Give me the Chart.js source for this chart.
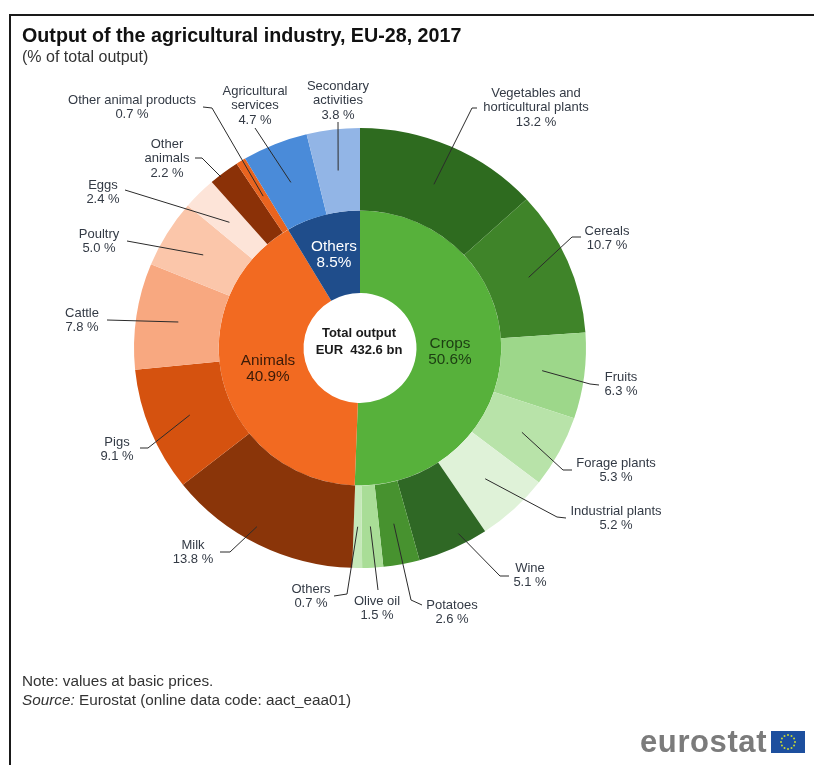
<!DOCTYPE html>
<html>
<head>
<meta charset="utf-8">
<title>Output of the agricultural industry</title>
<script src="https://cdn.jsdelivr.net/npm/chart.js@4"></script>
<style>
  html, body { margin: 0; padding: 0; background: #fff; }
  body { width: 814px; height: 765px; position: relative; overflow: hidden; font-family: "Liberation Sans", Arial, sans-serif; color: #222; }
  #frame { position: absolute; left: 9px; top: 14px; width: 810px; height: 760px; border: 2px solid #1a1a1a; box-sizing: border-box; }
  canvas { position: absolute; left: 0; top: 0; }
  .txt { position: absolute; white-space: nowrap; }
  #title { left: 22px; top: 24px; font-size: 19.7px; font-weight: bold; color: #111; }
  #sub { left: 22px; top: 48px; font-size: 16px; color: #333; }
  #note { left: 22px; top: 672px; font-size: 15.3px; color: #333; }
  #source { left: 22px; top: 691px; font-size: 15.3px; color: #333; }
  #logo { left: 640px; top: 724px; font-size: 31px; font-weight: bold; color: #7b7b7b; letter-spacing: 0.6px; }
  #flag { position: absolute; left: 771px; top: 731px; }
</style>
</head>
<body>
<div id="frame"></div>
<canvas id="donut" width="814" height="765"></canvas>
<div class="txt" id="title">Output of the agricultural industry, EU-28, 2017</div>
<div class="txt" id="sub">(% of total output)</div>
<div class="txt" id="note">Note: values at basic prices.</div>
<div class="txt" id="source"><i>Source:</i> Eurostat (online data code: aact_eaa01)</div>
<div class="txt" id="logo">eurostat</div>
<svg id="flag" width="34" height="22"></svg>
<script>
// outer ring, clockwise from 12 o'clock
const outerNames = ["Vegetables and|horticultural plants", "Cereals", "Fruits", "Forage plants", "Industrial plants", "Wine", "Potatoes", "Olive oil", "Others", "Milk", "Pigs", "Cattle", "Poultry", "Eggs", "Other|animals", "Other animal products", "Agricultural|services", "Secondary|activities"];
const outerValues = [13.2, 10.7, 6.3, 5.3, 5.2, 5.1, 2.6, 1.5, 0.7, 13.8, 9.1, 7.8, 5.0, 2.4, 2.2, 0.7, 4.7, 3.8];
const outerColors = ["#2e6b1f", "#3f8429", "#9dd78a", "#b8e3a9", "#dff2d8", "#2f6825", "#47922f", "#a9dd97", "#c5e9b9", "#8a3509", "#d5520f", "#f8a880", "#fbc6aa", "#fde4d8", "#8b3107", "#e9641f", "#4a8bd9", "#92b5e6"];

// inner ring
const innerNames = ["Crops", "Animals", "Others"];
const innerValues = [50.6, 40.9, 8.5];
const innerColors = ["#57b13b", "#f26a21", "#1f4d8b"];

// where each outer label sits: text centre, first row, then the leader's bend and end.
// trim drops that share of the leader at the arc end, so it stops short of the arc's middle
const callouts = [
  { x: 536, y: 93, bend: [472, 108], end: [477, 108] },
  { x: 607, y: 231, bend: [572, 237], end: [581, 237] },
  { x: 621, y: 377, bend: [590, 384], end: [599, 385] },
  { x: 616, y: 463, bend: [563, 470], end: [572, 470] },
  { x: 616, y: 511, bend: [557, 517], end: [566, 518] },
  { x: 530, y: 568, bend: [500, 576], end: [509, 576], trim: 0.35 },
  { x: 452, y: 605, bend: [411, 600], end: [422, 605] },
  { x: 377, y: 601, bend: [378, 590], end: [378, 590] },
  { x: 311, y: 589, bend: [347, 594], end: [334, 596] },
  { x: 193, y: 545, bend: [230, 552], end: [220, 552], trim: 0.43 },
  { x: 117, y: 442, bend: [148, 448], end: [140, 448] },
  { x: 82, y: 313, bend: [107, 320], end: [107, 320] },
  { x: 99, y: 234, bend: [127, 241], end: [127, 241] },
  { x: 103, y: 185, bend: [125, 190], end: [125, 190] },
  { x: 167, y: 144, bend: [202, 158], end: [195, 158], trim: 0.6 },
  { x: 132, y: 100, bend: [212, 108], end: [203, 107] },
  { x: 255, y: 91, bend: [255, 128], end: [255, 128] },
  { x: 338, y: 86, bend: [338, 122], end: [338, 122] }
];

const stretchX = 226 / 220; // ring is drawn slightly wider than tall

function stretch(ctx, cx, cy) {
  ctx.translate(cx, cy);
  ctx.scale(stretchX, 1);
  ctx.translate(-cx, -cy);
}

const stretchPlugin = {
  id: "stretchRings",
  beforeDatasetsDraw(chart) {
    const m = chart.getDatasetMeta(0).data[0];
    chart.ctx.save();
    stretch(chart.ctx, m.x, m.y);
  },
  afterDatasetsDraw(chart) {
    chart.ctx.restore();
  }
};

const labelPlugin = {
  id: "ringLabels",
  afterDraw(chart) {
    const ctx = chart.ctx;
    ctx.save();
    ctx.textAlign = "center";
    ctx.textBaseline = "middle";

    // leaders first, from the middle of each outer arc
    ctx.strokeStyle = "#2b2b2b";
    ctx.lineWidth = 1;
    chart.getDatasetMeta(0).data.forEach((arc, i) => {
      const p = arc.getCenterPoint();
      const c = callouts[i];
      const ax = arc.x + (p.x - arc.x) * stretchX;
      const t = c.trim || 0;
      ctx.beginPath();
      ctx.moveTo(ax + (c.bend[0] - ax) * t, p.y + (c.bend[1] - p.y) * t);
      ctx.lineTo(c.bend[0], c.bend[1]);
      ctx.lineTo(c.end[0], c.end[1]);
      ctx.stroke();
    });

    // outer labels: name rows then the value
    ctx.font = '13px "Liberation Sans", Arial, sans-serif';
    ctx.fillStyle = "#333a45";
    outerNames.forEach((name, i) => {
      const rows = name.split("|").concat(outerValues[i].toFixed(1) + " %");
      rows.forEach((row, k) => ctx.fillText(row, callouts[i].x, callouts[i].y + k * 14.8));
    });

    // inner ring labels
    const innerSpots = [[450, 344, "#1c3d12"], [268, 361, "#3a1a08"], [334, 247, "#ffffff"]];
    ctx.font = '15.3px "Liberation Sans", Arial, sans-serif';
    innerNames.forEach((name, i) => {
      const [x, y, col] = innerSpots[i];
      ctx.fillStyle = col;
      ctx.fillText(name, x, y);
      ctx.fillText(innerValues[i].toFixed(1) + "%", x, y + 16);
    });

    // hole caption
    ctx.font = 'bold 13px "Liberation Sans", Arial, sans-serif';
    ctx.fillStyle = "#1a1a1a";
    ctx.fillText("Total output", 359, 333);
    ctx.fillText("EUR  432.6 bn", 359, 350);
    ctx.restore();
  }
};

new Chart(document.getElementById("donut").getContext("2d"), {
  type: "doughnut",
  data: {
    labels: outerNames,
    datasets: [
      { data: outerValues, backgroundColor: outerColors, borderWidth: 0 },
      { data: innerValues, backgroundColor: innerColors, borderWidth: 0 }
    ]
  },
  options: {
    responsive: false,
    animation: false,
    cutout: 55,
    layout: { padding: { left: 140, right: 234, top: 128, bottom: 197 } },
    plugins: { legend: { display: false }, tooltip: { enabled: false } }
  },
  plugins: [stretchPlugin, labelPlugin]
});

// EU flag next to the logo
const flag = document.getElementById("flag");
let flagMarkup = '<rect width="34" height="22" fill="#1d4f9e"/>';
for (let i = 0; i < 12; i++) {
  const a = i * Math.PI / 6;
  flagMarkup += `<circle cx="${17 + 7 * Math.cos(a)}" cy="${11 + 7 * Math.sin(a)}" r="1" fill="#c9d832"/>`;
}
flag.innerHTML = flagMarkup;
</script>
</body>
</html>
